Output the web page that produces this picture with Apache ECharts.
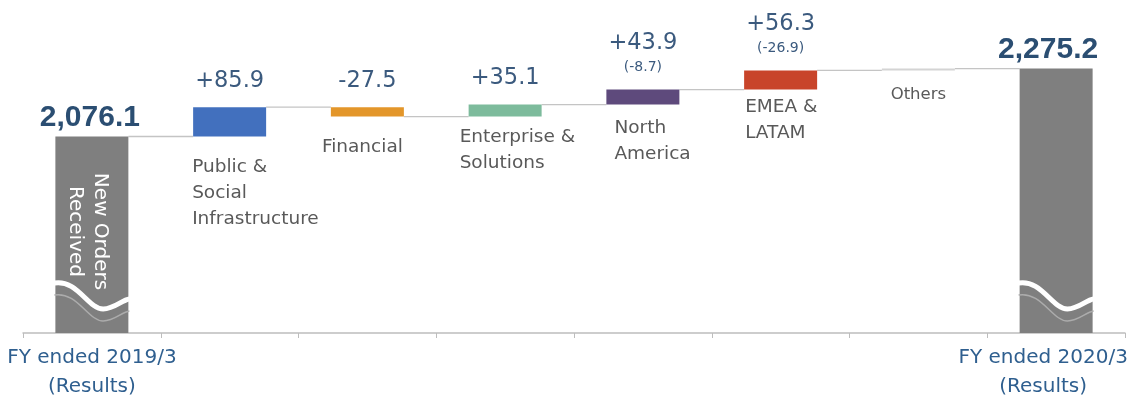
<!DOCTYPE html>
<html>
<head>
<meta charset="utf-8">
<script src="https://cdn.jsdelivr.net/npm/echarts@6/dist/echarts.min.js"></script>
<style>
html,body{margin:0;padding:0;background:#fff;}
#chart{width:1137px;height:401px;}
</style>
</head>
<body>
<div id="chart"></div>
<script>
// ---- data ----
const categories = ['FY ended 2019/3\n(Results)', 'Public &\nSocial\nInfrastructure', 'Financial', 'Enterprise &\nSolutions', 'North\nAmerica', 'EMEA &\nLATAM', 'Others', 'FY ended 2020/3\n(Results)'];
const startTotal = 2076.1;
const endTotal = 2275.2;
const deltas = [85.9, -27.5, 35.1, 43.9, 56.3, 5.4];
const deltaLabels = ['+85.9', '-27.5', '+35.1', '+43.9', '+56.3', ''];
const subLabels = ['', '', '', '(-8.7)', '(-26.9)', ''];
const totalLabels = ['2,076.1', '2,275.2'];
const barNote = 'New Orders\nReceived';
const axisMin = 1500;
const axisMax = 2400;

// ---- styles ----
const FONT = '"DejaVu Sans", "Liberation Sans", Arial, sans-serif';
const BOLD_FONT = '"Liberation Sans", Arial, sans-serif';
const deltaColors = ['#4270BE', '#E3962A', '#7DBB9C', '#5E4A7C', '#C8442A', '#d4d4d4'];
const totalColor = '#7F7F7F';
const BAR_W = 73;
// category label nudges: [dx from bar left, distance below bar bottom, align]
const catLabelLayout = [[-1, 18, 'left'], [-9, 18, 'left'], [-9, 8, 'left'], [8, 11, 'left'], [1, 5, 'left'], [0, 11, 'center']];

// ---- build waterfall ----
const baseData = [0];
const valData = [];
const connectors = [];
let cum = startTotal;
connectors.push([0, cum]);
valData.push({
  value: startTotal,
  itemStyle: { color: totalColor },
  label: { show: true, formatter: totalLabels[0], fontSize: 30, fontWeight: 'bold', color: '#2B4E72', fontFamily: BOLD_FONT, distance: 4, offset: [-2, 0] }
});
deltas.forEach((d, i) => {
  const base = d >= 0 ? cum : cum + d;
  const lay = catLabelLayout[i];
  baseData.push({
    value: base,
    label: {
      show: true, position: 'insideTop', formatter: categories[i + 1],
      align: lay[2], offset: [lay[2] === 'left' ? -BAR_W / 2 + lay[0] : lay[0], 0], distance: lay[1],
      fontSize: i === 5 ? 16.5 : 18.5, lineHeight: 26, color: '#595959', fontFamily: FONT
    }
  });
  const txt = deltaLabels[i] ? ('{a|' + deltaLabels[i] + '}' + (subLabels[i] ? '\n{b|' + subLabels[i] + '}' : '')) : '';
  valData.push({
    value: Math.abs(d),
    itemStyle: { color: deltaColors[i] },
    label: {
      show: !!txt, formatter: txt, distance: 12,
      rich: {
        a: { fontSize: 22.5, lineHeight: 28, color: '#3B5A7E', fontFamily: FONT },
        b: { fontSize: 14, lineHeight: 20, color: '#3B5A7E', fontFamily: FONT }
      }
    }
  });
  cum += d;
  connectors.push([i + 1, cum]);
});
baseData.push(0);
valData.push({
  value: endTotal,
  itemStyle: { color: totalColor },
  label: { show: true, formatter: totalLabels[1], fontSize: 30, fontWeight: 'bold', color: '#2B4E72', fontFamily: BOLD_FONT, distance: 4, offset: [-8, 0] }
});

const xData = categories.map((c, i) => i === categories.length - 1 ? { value: c, textStyle: { padding: [0, 26, 0, 0] } } : c);

function wave(cx, bottom, dy) {
  const x0 = cx - BAR_W / 2 - 1, x1 = cx + BAR_W / 2 + 1;
  const w = x1 - x0;
  const b = bottom + dy;
  return 'M' + x0 + ',' + (b - 50) +
    ' C' + (x0 + w * 0.3) + ',' + (b - 54) + ' ' + (x0 + w * 0.45) + ',' + (b - 24) + ' ' + (x0 + w * 0.65) + ',' + (b - 24) +
    ' C' + (x0 + w * 0.8) + ',' + (b - 24) + ' ' + (x0 + w * 0.9) + ',' + (b - 33) + ' ' + x1 + ',' + (b - 34);
}

const chart = echarts.init(document.getElementById('chart'), null, { renderer: 'canvas' });
chart.setOption({
  animation: false,
  backgroundColor: '#fff',
  textStyle: { fontFamily: FONT },
  grid: { left: 23, right: 12, top: 26, bottom: 68, containLabel: false, outerBoundsMode: 'none' },
  xAxis: {
    type: 'category',
    data: xData,
    axisLine: { lineStyle: { color: '#bdbdbd', width: 1.5 } },
    axisTick: { show: true, length: 5, lineStyle: { color: '#bdbdbd' } },
    axisLabel: {
      interval: 0, margin: 10, fontSize: 20, lineHeight: 29, color: '#2F5F8F', fontFamily: FONT,
      formatter: (v, idx) => (idx === 0 || idx === categories.length - 1) ? v : ''
    }
  },
  yAxis: { type: 'value', min: axisMin, max: axisMax, show: false, splitLine: { show: false } },
  series: [
    {
      type: 'bar', stack: 'w', barWidth: BAR_W, data: baseData,
      itemStyle: { color: 'rgba(0,0,0,0)' }, silent: true
    },
    {
      type: 'bar', stack: 'w', barWidth: BAR_W, data: valData,
      label: { show: true, position: 'top', fontFamily: FONT }
    },
    {
      type: 'custom', data: connectors, z: 1, silent: true,
      renderItem: function (params, api) {
        const i = api.value(0);
        if (i >= categories.length - 1) return;
        const p1 = api.coord([i, api.value(1)]);
        const p2 = api.coord([i + 1, api.value(1)]);
        return {
          type: 'line',
          shape: { x1: p1[0] + BAR_W / 2, y1: p1[1], x2: p2[0] - BAR_W / 2, y2: p2[1] },
          style: { stroke: '#c4c4c4', lineWidth: 1.3 }
        };
      }
    },
    {
      // axis-break waves and the rotated note on the total bars
      type: 'custom', data: [[0, startTotal], [categories.length - 1, endTotal]], z: 5, silent: true,
      renderItem: function (params, api) {
        const idx = api.value(0);
        const pb = api.coord([idx, axisMin]);
        const pt = api.coord([idx, api.value(1)]);
        const children = [
          { type: 'path', shape: { pathData: wave(pb[0], pb[1], 12) }, style: { fill: null, stroke: '#acacac', lineWidth: 1.5 } },
          { type: 'path', shape: { pathData: wave(pb[0], pb[1], 0) }, style: { fill: null, stroke: '#ffffff', lineWidth: 5 } }
        ];
        if (idx === 0) {
          children.push({
            type: 'text', x: pt[0] - 4, y: pt[1] + 95, rotation: -Math.PI / 2,
            style: { text: barNote, fill: '#ffffff', fontSize: 20, lineHeight: 25, fontFamily: FONT, align: 'center', verticalAlign: 'middle' }
          });
        }
        return { type: 'group', children: children };
      }
    }
  ]
});
</script>
</body>
</html>
